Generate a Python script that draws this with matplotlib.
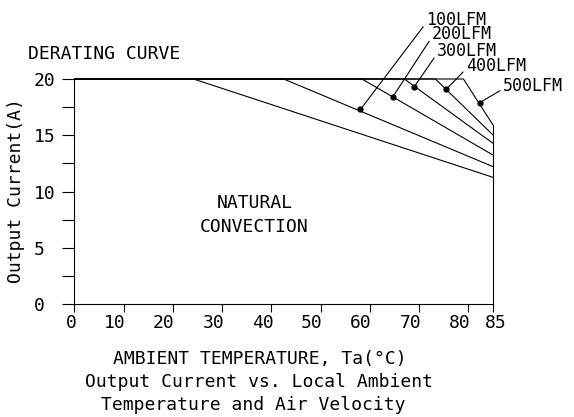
import matplotlib
matplotlib.use('Agg')
import matplotlib.pyplot as plt
from matplotlib import transforms

# derating curves: flat at 20A up to the knee, then straight down to 85C
curve_names = ['NATURAL CONVECTION', '100LFM', '200LFM', '300LFM', '400LFM', '500LFM']
knee_temp = [24.2, 42.5, 58.4, 67.0, 73.3, 79.0]
current_at_85 = [11.27, 12.22, 13.25, 14.29, 15.03, 15.92]
max_current = 20
max_temp = 85

# callout dots sitting on the air flow curves
dot_temp = [58.1, 64.6, 69.0, 75.5, 82.3]
dot_current = [17.3, 18.37, 19.3, 19.08, 17.9]

x_ticks = [0, 10, 20, 30, 40, 50, 60, 70, 80, 85]
y_ticks = [0, 2.5, 5, 7.5, 10, 12.5, 15, 17.5, 20]
y_ticklabels = ['0', '', '5', '', '10', '', '15', '', '20']

FONT = 'DejaVu Sans Mono'
plt.rcParams['font.family'] = [FONT]
plt.rcParams['font.size'] = 13

fig = plt.figure(figsize=(5.74, 4.17), dpi=100)
W, H = 574, 417
ax = fig.add_axes([74.3 / W, 1 - 304.3 / H, 418.7 / W, 225.3 / H])
ax.set_xlim(0, max_temp)
ax.set_ylim(0, max_current)

lw = 0.8
for k, i85 in zip(knee_temp, current_at_85):
    ax.plot([0, k, max_temp], [max_current, max_current, i85],
            color='black', lw=lw, solid_capstyle='butt', clip_on=False)
ax.plot([max_temp, max_temp], [0, max(current_at_85)], color='black', lw=lw,
        clip_on=False)

ax.plot(dot_temp, dot_current, 'o', color='black', ms=3.5, clip_on=False)

# air flow labels with leader lines
label_xy = [(71.4, 25.24), (72.6, 24.0), (73.6, 22.49), (79.5, 21.15), (87.0, 19.38)]
for name, dx, dy, (tx, ty) in zip(curve_names[1:], dot_temp, dot_current, label_xy):
    ax.annotate(name, xy=(dx, dy), xytext=(tx, ty), ha='left', va='center',
                fontsize=12, annotation_clip=False,
                arrowprops=dict(arrowstyle='-', color='black', lw=lw,
                                shrinkA=0, shrinkB=0, relpos=(0, 0.33)))

ax.text(36.6, 7.9, 'NATURAL\nCONVECTION', ha='center', va='center',
        linespacing=1.45)

for s in ['top', 'right']:
    ax.spines[s].set_visible(False)
for s in ['left', 'bottom']:
    ax.spines[s].set_linewidth(lw)

ax.set_yticks(y_ticks)
ax.set_yticklabels(y_ticklabels, ha='left')
ax.tick_params(axis='y', length=8.6, width=lw, pad=20.4)
ax.set_xticks(x_ticks)
ax.tick_params(axis='x', length=5.8, width=lw, labelbottom=False)

# x tick labels sit a little left of their ticks, the last one to the right
base = transforms.blended_transform_factory(ax.transData, ax.transAxes)
for i, t in enumerate(x_ticks):
    last = i == len(x_ticks) - 1
    off = transforms.ScaledTranslation((-8 if last else 2) / 100, -19 / 100,
                                       fig.dpi_scale_trans)
    ax.text(t, 0, str(t), transform=base + off, ha='left' if last else 'right',
            va='center')

fig.text(28 / W, 1 - 54 / H, 'DERATING CURVE', ha='left', va='center')
fig.text(16 / W, 1 - 191 / H, 'Output Current(A)', rotation=90,
         ha='center', va='center')
fig.text(260 / W, 1 - 359 / H, 'AMBIENT TEMPERATURE, Ta(°C)',
         ha='center', va='center')
fig.text(259 / W, 1 - 382 / H, 'Output Current vs. Local Ambient',
         ha='center', va='center')
fig.text(253 / W, 1 - 405 / H, 'Temperature and Air Velocity',
         ha='center', va='center')

fig.savefig('out.png', dpi=100)
